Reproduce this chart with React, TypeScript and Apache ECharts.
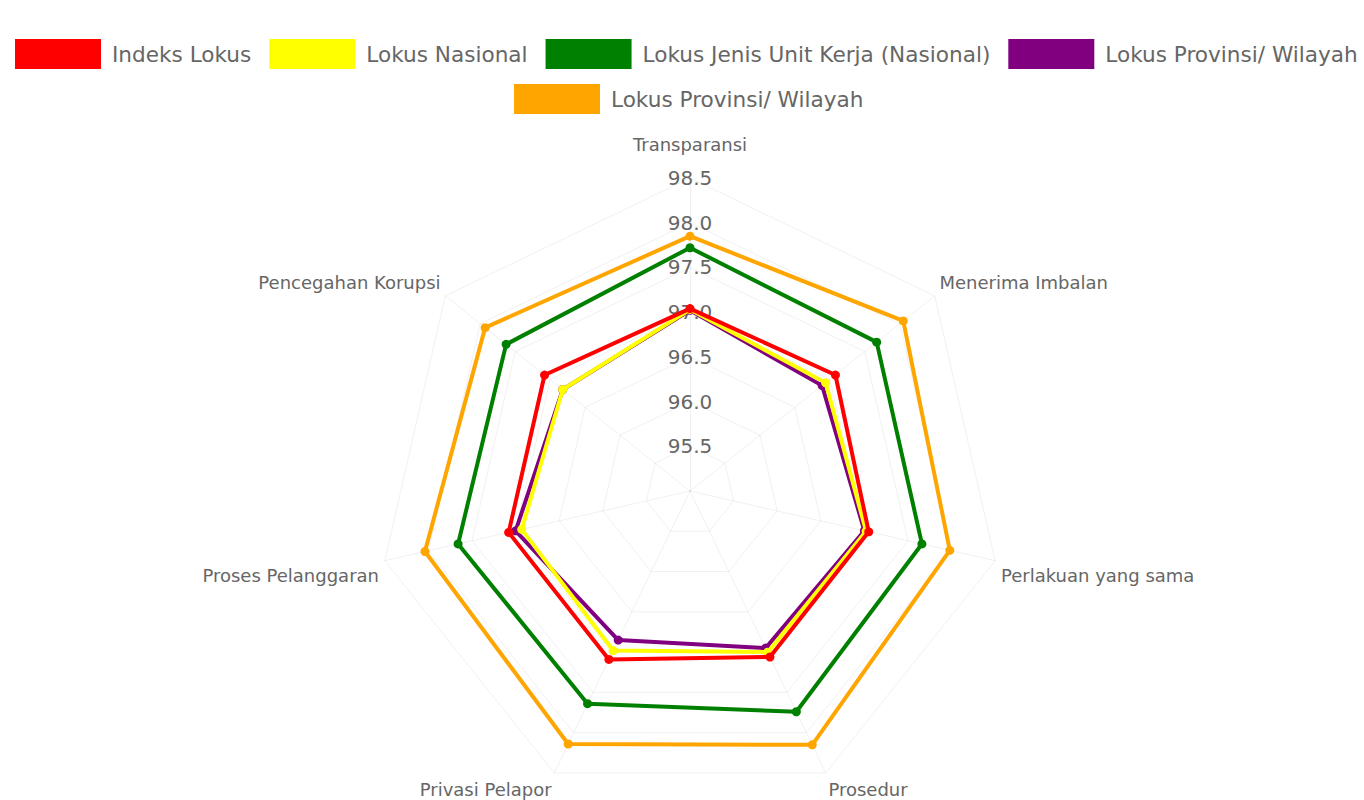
import React, { useEffect, useRef } from "react";
import * as echarts from "echarts";

const categories = [
  "Transparansi",
  "Menerima Imbalan",
  "Perlakuan yang sama",
  "Prosedur",
  "Privasi Pelapor",
  "Proses Pelanggaran",
  "Pencegahan Korupsi",
];

const seriesNames = [
  "Indeks Lokus",
  "Lokus Nasional",
  "Lokus Jenis Unit Kerja (Nasional)",
  "Lokus Provinsi/ Wilayah",
  "Lokus Provinsi/ Wilayah",
];

const indeksLokus = [97.04, 97.08, 97.05, 97.06, 97.09, 97.08, 97.08];
const lokusNasional = [97.03, 96.94, 97.02, 97.0, 96.98, 96.93, 96.82];
const lokusJenisUnitKerja = [97.72, 97.67, 97.66, 97.74, 97.64, 97.66, 97.63];
const lokusProvinsi = [97.02, 96.89, 97.0, 96.95, 96.85, 97.0, 96.82];
const lokusProvinsi2 = [97.85, 98.05, 97.98, 98.15, 98.14, 98.04, 97.93];

const seriesValues = [indeksLokus, lokusNasional, lokusJenisUnitKerja, lokusProvinsi, lokusProvinsi2];
const colors = ["#ff0000", "#ffff00", "#008000", "#800080", "#ffa500"];

const axisMin = 95;
const axisMax = 98.5;
const axisStep = 0.5;

const FONT = "DejaVu Sans";

// ECharts places radar indicators counter-clockwise; reorder so that they run clockwise.
const order = [0, ...categories.map((_, i) => i).slice(1).reverse()];

// per-label padding (layout only), indexed like categories
const namePadding: number[][] = [
  [0, 0, 19, 0],
  [0, 0, 20, 0],
  [28, 0, 0, 0],
  [22, 0, 0, 0],
  [22, 0, 0, 0],
  [28, 0, 0, 0],
  [0, 0, 20, 0],
];

export default function App() {
  const ref = useRef<HTMLDivElement>(null);
  useEffect(() => {
    document.body.style.margin = "0";
    if (!ref.current) return;
    const chart = echarts.init(ref.current, undefined, { renderer: "svg" });
    const keys = seriesNames.map((n, i) => `${n}#${i}`);
    const legendCommon = {
      orient: "horizontal" as const,
      itemWidth: 86,
      itemHeight: 30,
      itemGap: 18,
      padding: 0,
      icon: "rect",
      formatter: (name: string) => name.split("#")[0],
      textStyle: { fontFamily: FONT, fontSize: 21.6, color: "#666", padding: [0, 0, 0, 6] },
    };
    const rich: Record<string, any> = {};
    categories.forEach((_, i) => {
      rich[`n${i}`] = { fontFamily: FONT, fontSize: 18, color: "#666", padding: namePadding[i] };
    });
    chart.setOption({
      animation: false,
      color: colors,
      legend: [
        { ...legendCommon, left: 15, top: 39, data: keys.slice(0, 4) },
        { ...legendCommon, left: 514, top: 84, data: keys.slice(4) },
      ],
      radar: {
        center: [690, 491],
        radius: 313,
        startAngle: 90,
        shape: "polygon",
        splitNumber: Math.round((axisMax - axisMin) / axisStep),
        indicator: order.map((ci, i) => {
          const ind: any = { name: categories[ci], min: axisMin, max: axisMax };
          if (i === 0) {
            ind.axisLabel = {
              show: true,
              showMinLabel: false,
              margin: 0,
              align: "center",
              verticalAlign: "middle",
              fontFamily: FONT,
              fontSize: 20,
              color: "#666",
              formatter: (v: number) => v.toFixed(1),
            };
          }
          return ind;
        }),
        axisName: {
          color: "#666",
          fontFamily: FONT,
          fontSize: 18,
          formatter: (name: string) => `{n${categories.indexOf(name)}|${name}}`,
          rich,
        },
        nameGap: 6,
        splitArea: { show: false },
        splitLine: { lineStyle: { color: "rgba(0,0,0,0.06)", width: 1 } },
        axisLine: { lineStyle: { color: "rgba(0,0,0,0.06)", width: 1 } },
        axisLabel: { show: false },
        axisTick: { show: false },
      },
      series: seriesValues.map((vals, i) => ({
        type: "radar",
        name: keys[i],
        z: 10 - i,
        symbol: "circle",
        symbolSize: 9,
        lineStyle: { width: 4, color: colors[i] },
        itemStyle: { color: colors[i] },
        data: [{ name: keys[i], value: order.map((ci) => vals[ci]) }],
      })),
    });
    return () => chart.dispose();
  }, []);
  return <div ref={ref} style={{ width: 1364, height: 800 }} />;
}
